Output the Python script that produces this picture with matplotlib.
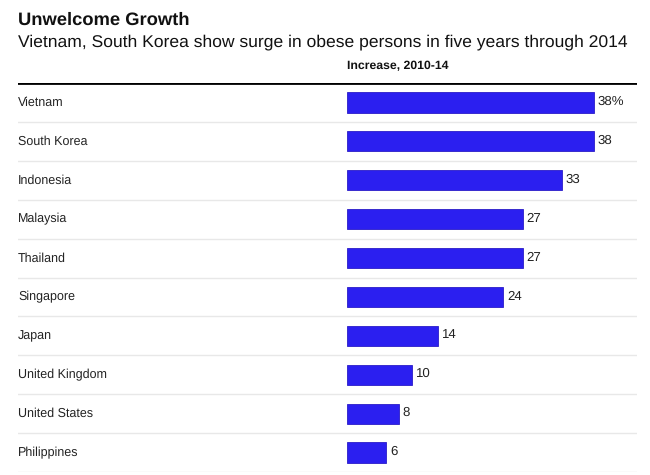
import matplotlib.pyplot as plt

countries = ["Vietnam", "South Korea", "Indonesia", "Malaysia", "Thailand",
             "Singapore", "Japan", "United Kingdom", "United States", "Philippines"]
increase = [38, 38, 33, 27, 27, 24, 14, 10, 8, 6]
value_labels = ["38%", "38", "33", "27", "27", "24", "14", "10", "8", "6"]

plt.rcParams['font.family'] = ['Liberation Sans', 'DejaVu Sans']
plt.rcParams['text.hinting'] = 'no_hinting'

W, H = 650, 475
fig = plt.figure(figsize=(6.5, 4.75), dpi=100)

# axes covering the table area, pixels 18..637 wide, 83..472 tall
left, right, top, bottom = 18, 637, 83, 472
ax = fig.add_axes([left / W, 1 - bottom / H, (right - left) / W, (bottom - top) / H])

px_per_unit = 6.5
bar_x0 = 347
ax.set_xlim((left - bar_x0) / px_per_unit, (right - bar_x0) / px_per_unit)
n = len(countries)
ax.set_ylim(n - 0.5, -0.5)

ypos = list(range(n))
ax.barh(ypos, increase, height=0.52, color='#2b1ff0', edgecolor='#2a1cc8', linewidth=0.6)

for i in range(n):
    ax.text(0, i, countries[i], transform=ax.get_yaxis_transform(),
            ha='left', va='center', fontsize=9, color='#222222')
    ax.text(increase[i] + 0.6, i - 0.02, value_labels[i], ha='left', va='center',
            fontsize=9.5, color='#222222')
    ax.axhline(i + 0.5, color='#e8e8e8', linewidth=1)

ax.axhline(-0.5, color='black', linewidth=2)

ax.axis('off')

fig.text(18 / W, 1 - 20 / H, "Unwelcome Growth", fontsize=13.2, fontweight='bold',
         ha='left', va='center', color='#111111')
fig.text(18 / W, 1 - 42 / H,
         "Vietnam, South Korea show surge in obese persons in five years through 2014",
         fontsize=12.6, ha='left', va='center', color='#111111')
fig.text(bar_x0 / W, 1 - 66 / H, "Increase, 2010-14", fontsize=8.8, fontweight='bold',
         ha='left', va='center', color='#111111')

fig.savefig("out.png", dpi=100, facecolor='white')
